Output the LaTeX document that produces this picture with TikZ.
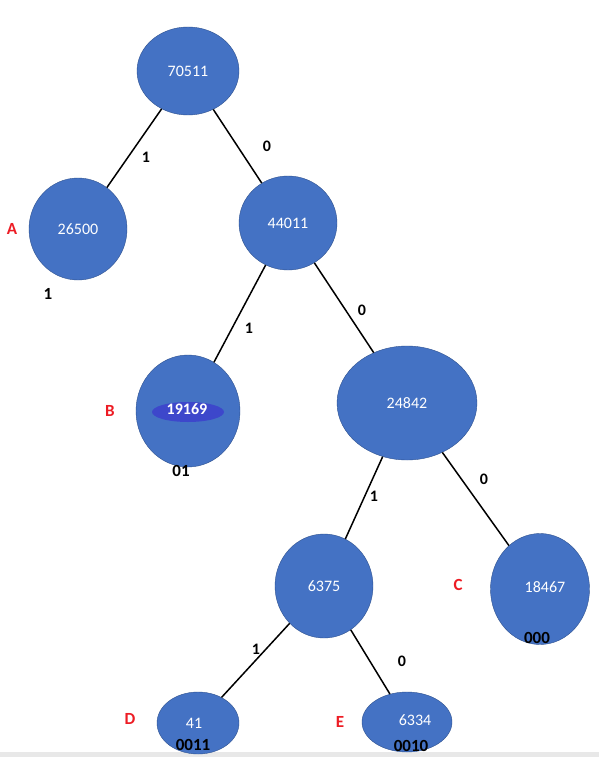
\documentclass[tikz,border=0pt]{standalone}
\usepackage{fontspec}
\setmainfont{Carlito}
\usetikzlibrary{shapes.geometric}
\definecolor{nodeblue}{HTML}{4472C4}
\definecolor{nodeedge}{HTML}{2F528F}
\definecolor{scribble}{HTML}{3D47CB}
\definecolor{codered}{HTML}{ED1C24}
\tikzstyle{huff} = [ellipse, inner sep=0pt, draw=nodeedge, fill=nodeblue, text=white, font=\fontsize{16}{16}\selectfont]
\tikzstyle{edge} = [line width=1.5pt, black]
\tikzstyle{bit} = [font=\bfseries\fontsize{16}{16}\selectfont]
\tikzstyle{letter} = [text=codered, font=\bfseries\fontsize{17}{17}\selectfont]
\tikzstyle{code} = [font=\bfseries\fontsize{17}{17}\selectfont]

\begin{document}
\begin{tikzpicture}[x=1pt, y=-1pt]
        \useasboundingbox (0,0) rectangle (599,757);
        \fill [white] (0,0) rectangle (599,752);
        \fill [black!9] (0,752) rectangle (599,757);

        \node (root) [huff, minimum width=102pt, minimum height=88pt] at (188,71) {70511};
        \node (n26500) [huff, minimum width=98pt, minimum height=102pt] at (78,229) {26500};
        \node (n44011) [huff, minimum width=98pt, minimum height=94pt] at (288,223) {44011};
        \node (n19169) [huff, minimum width=104pt, minimum height=112pt] at (188,411) {};
        \node (n24842) [huff, minimum width=140pt, minimum height=114pt] at (407,403) {24842};
        \node (n6375) [huff, minimum width=98pt, minimum height=104pt] at (324,586) {6375};
        \node (n18467) [huff, minimum width=99pt, minimum height=111pt] at (540,589) {\raisebox{3pt}{\hspace{10pt}18467}};
        \node (n41) [huff, minimum width=82pt, minimum height=62pt] at (198,723) {\hspace{-8pt}41};
        \node (n6334) [huff, minimum width=90pt, minimum height=60pt] at (407,722) {\raisebox{3pt}{\hspace{16pt}6334}};

        % scribbled highlight on B
        \fill [scribble] (188,412) ellipse [x radius=36pt, y radius=10pt];
        \node (t19169) [text=white, font=\bfseries\fontsize{16}{16}\selectfont] at (187,409) {19169};

        \draw [edge] (root) -- (n26500);
        \draw [edge] (root) -- (n44011);
        \draw [edge] (n44011) -- (n19169);
        \draw [edge] (n44011) -- (n24842);
        \draw [edge] (n24842) -- (n6375);
        \draw [edge] (n24842) -- (n18467);
        \draw [edge] (n6375) -- (n41);
        \draw [edge] (n6375) -- (n6334);

        \node (b1) [bit] at (146,157) {1};
        \node (b2) [bit] at (267,146) {0};
        \node (b3) [bit] at (249,328) {1};
        \node (b4) [bit] at (362,310) {0};
        \node (b5) [bit] at (374,496) {1};
        \node (b6) [bit] at (484,479) {0};
        \node (b7) [bit] at (256,649) {1};
        \node (b8) [bit] at (402,661) {0};

        \node (labA) [letter] at (12,229) {A};
        \node (labB) [letter] at (110,411) {B};
        \node (labC) [letter] at (458,585) {C};
        \node (labD) [letter] at (130,719) {D};
        \node (labE) [letter] at (340,722) {E};

        \node (codeA) [code] at (48,294) {1};
        \node (codeB) [code] at (181,471) {01};
        \node (codeC) [code] at (537,638) {000};
        \node (codeD) [code] at (193,745) {0011};
        \node (codeE) [code] at (411,746) {0010};
\end{tikzpicture}
\end{document}
